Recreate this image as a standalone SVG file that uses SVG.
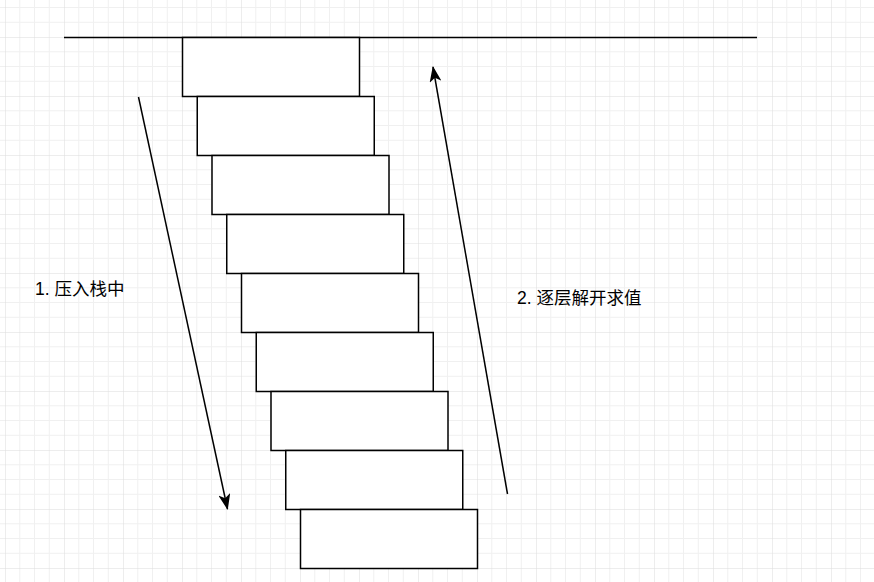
<svg xmlns="http://www.w3.org/2000/svg" width="874" height="582" viewBox="0 0 874 582">
<defs>
<pattern id="grid" x="5" y="-22" width="59" height="59" patternUnits="userSpaceOnUse">
<path d="M14.75 0V59M29.5 0V59M44.25 0V59M0 14.75H59M0 29.5H59M0 44.25H59" stroke="#f0f0f0" stroke-width="1" fill="none"/>
<path d="M0 0V59M0 0H59" stroke="#dcdcdc" stroke-width="1" fill="none"/>
</pattern>
<marker id="arrow" viewBox="0 0 16 12" refX="15" refY="6" markerWidth="16" markerHeight="12" markerUnits="userSpaceOnUse" orient="auto">
<path d="M0 0L16 6L0 12L4 6Z" fill="#000"/>
</marker>
</defs>
<style>
.box{fill:#fff;stroke:#000;stroke-width:1.5}
.ln{stroke:#000;stroke-width:1.5;fill:none}
.lbl{font-family:"Liberation Sans","Noto Sans CJK SC",sans-serif;font-size:17.5px;fill:#000}
</style>
<rect width="874" height="582" fill="#fff"/>
<rect width="874" height="582" fill="url(#grid)"/>
<g id="connectors">
<line class="ln" x1="64" y1="37.5" x2="757" y2="37.5"/>
<line class="ln" x1="138.5" y1="97" x2="227.5" y2="509" marker-end="url(#arrow)"/>
<line class="ln" x1="507.5" y1="494" x2="433" y2="67" marker-end="url(#arrow)"/>
</g>
<g id="node1"><rect class="box" x="182.5" y="37.5" width="177" height="59"/></g>
<g id="node2"><rect class="box" x="197.25" y="96.5" width="177" height="59"/></g>
<g id="node3"><rect class="box" x="212" y="155.5" width="177" height="59"/></g>
<g id="node4"><rect class="box" x="226.75" y="214.5" width="177" height="59"/></g>
<g id="node5"><rect class="box" x="241.5" y="273.5" width="177" height="59"/></g>
<g id="node6"><rect class="box" x="256.25" y="332.5" width="177" height="59"/></g>
<g id="node7"><rect class="box" x="271" y="391.5" width="177" height="59"/></g>
<g id="node8"><rect class="box" x="285.75" y="450.5" width="177" height="59"/></g>
<g id="node9"><rect class="box" x="300.5" y="509.5" width="177" height="59"/></g>
<g id="label1"><text class="lbl" x="35" y="294.5">1. 压入栈中</text></g>
<g id="label2"><text class="lbl" x="517" y="303.5">2. 逐层解开求值</text></g>
</svg>
